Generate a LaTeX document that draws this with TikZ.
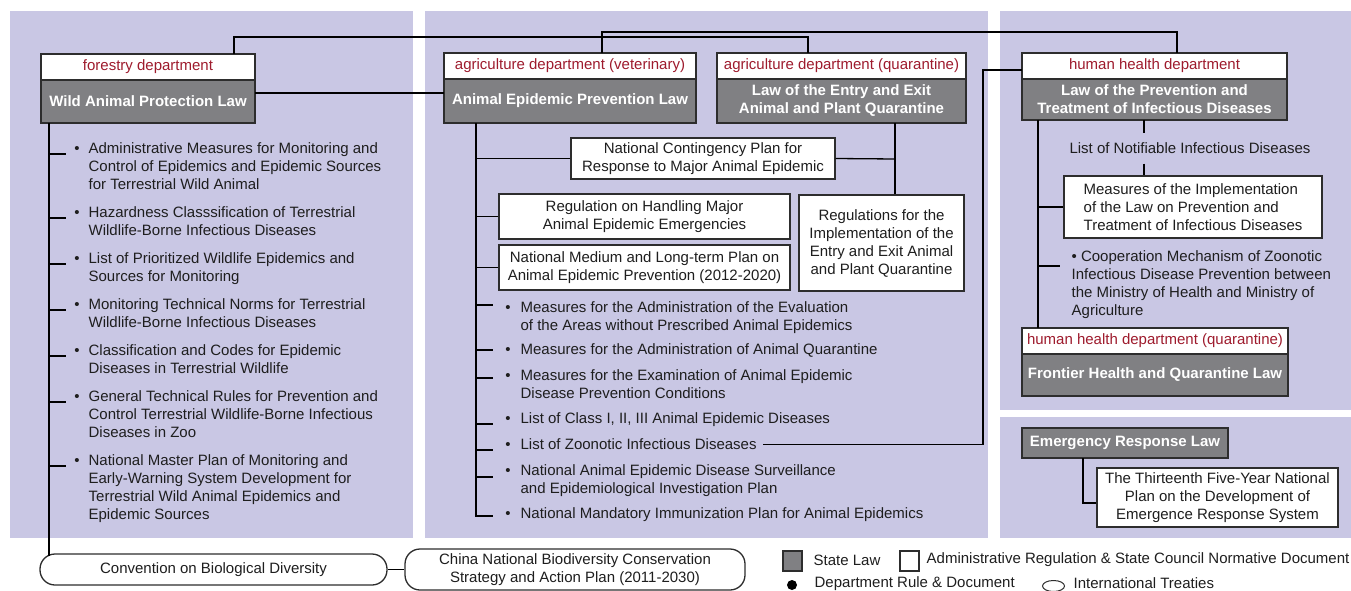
\documentclass[tikz,border=0pt]{standalone}
\usepackage{fontspec}
\setmainfont{Liberation Sans}
\usepackage{xcolor}
\newlength{\deptht}
\newlength{\bulgap}
\usepackage{tikz}
\usetikzlibrary{positioning}
\usetikzlibrary{shapes.geometric}
\definecolor{panelbg}{RGB}{201,199,228}
\definecolor{lawgray}{RGB}{128,128,131}
\definecolor{deptred}{RGB}{158,27,45}
\definecolor{boxline}{RGB}{45,45,45}
\definecolor{inkdark}{RGB}{30,30,30}
\tikzstyle{panel}=[fill=panelbg, draw=none]
\tikzstyle{dept}=[draw=boxline, fill=white, text=deptred, minimum height=\deptht, outer sep=0pt]
\tikzstyle{law}=[draw=boxline, fill=lawgray, text=white, align=center, outer sep=0pt, font=\fontsize{15}{18}\selectfont\bfseries]
\tikzstyle{reg}=[draw=boxline, fill=white, align=center]
\tikzstyle{item}=[anchor=north west, align=left, inner sep=0pt]
\tikzstyle{treaty}=[draw=boxline, fill=white, rounded corners=15pt, align=center]
\newcommand{\bul}{\llap{\textbullet\hspace{\bulgap}}}

\begin{document}
\begin{tikzpicture}[x=1pt, y=-1pt, line width=1.3pt, text=inkdark, font=\fontsize{15}{18}\selectfont]

\setlength{\deptht}{26pt}
\setlength{\bulgap}{9pt}
\useasboundingbox (0,0) rectangle (1351,591);

% panels
\fill[panel] (10,11) rectangle (413,538);
\fill[panel] (425,11) rectangle (988,538);
\fill[panel] (1000,11) rectangle (1351,410);
\fill[panel] (1000,417) rectangle (1351,538);

% forestry
\node (fd) [dept, minimum width=214pt] at (148,67) {forestry department};
\node (wapl) [law, minimum width=214pt, minimum height=43pt, below=0pt of fd] {Wild Animal Protection Law};

\node (lw1) [item] at (88,142) {\bul Administrative Measures for Monitoring and\\Control of Epidemics and Epidemic Sources\\for Terrestrial Wild Animal};
\node (lw2) [item] at (88,206) {\bul Hazardness Classsification of Terrestrial\\Wildlife-Borne Infectious Diseases};
\node (lw3) [item] at (88,252) {\bul List of Prioritized Wildlife Epidemics and\\Sources for Monitoring};
\node (lw4) [item] at (88,298) {\bul Monitoring Technical Norms for Terrestrial\\Wildlife-Borne Infectious Diseases};
\node (lw5) [item] at (88,344) {\bul Classification and Codes for Epidemic\\Diseases in Terrestrial Wildlife};
\node (lw6) [item] at (88,390) {\bul General Technical Rules for Prevention and\\Control Terrestrial Wildlife-Borne Infectious\\Diseases in Zoo};
\node (lw7) [item] at (88,454) {\bul National Master Plan of Monitoring and\\Early-Warning System Development for\\Terrestrial Wild Animal Epidemics and\\Epidemic Sources};

% agriculture
\node (avd) [dept, minimum width=252pt] at (570,66) {agriculture department (veterinary)};
\node (aepl) [law, minimum width=252pt, minimum height=44pt, below=0pt of avd] {Animal Epidemic Prevention Law};
\node (aqd) [dept, minimum width=249pt] at (841.5,66) {agriculture department (quarantine)};
\node (eepl) [law, minimum width=249pt, minimum height=44pt, below=0pt of aqd] {Law of the Entry and Exit\\Animal and Plant Quarantine};

\node (ncp) [reg, minimum width=264pt, minimum height=41pt] at (703,158.5) {National Contingency Plan for\\Response to Major Animal Epidemic};
\node (rhm) [reg, minimum width=291pt, minimum height=45pt] at (644.5,216.5) {Regulation on Handling Major\\Animal Epidemic Emergencies};
\node (nmlp) [reg, minimum width=291pt, minimum height=45pt] at (644.5,267.5) {National Medium and Long-term Plan on\\Animal Epidemic Prevention (2012-2020)};
\node (rie) [reg, minimum width=165pt, minimum height=96pt] at (881.5,243) {Regulations for the\\Implementation of the\\Entry and Exit Animal\\and Plant Quarantine};

\setlength{\bulgap}{10pt}
\node (ae1) [item] at (520,301) {\bul Measures for the Administration of the Evaluation\\of the Areas without Prescribed Animal Epidemics};
\node (ae2) [item] at (520,343) {\bul Measures for the Administration of Animal Quarantine};
\node (ae3) [item] at (520,369) {\bul Measures for the Examination of Animal Epidemic\\Disease Prevention Conditions};
\node (ae4) [item] at (520,412) {\bul List of Class I, II, III Animal Epidemic Diseases};
\node (ae5) [item] at (520,438) {\bul List of Zoonotic Infectious Diseases};
\node (ae6) [item] at (520,464) {\bul National Animal Epidemic Disease Surveillance\\and Epidemiological Investigation Plan};
\node (ae7) [item] at (520,507) {\bul National Mandatory Immunization Plan for Animal Epidemics};

% human health
\node (hhd) [dept, minimum width=265pt] at (1154.5,66) {human health department};
\node (lpt) [law, minimum width=265pt, minimum height=41pt, below=0pt of hhd] {Law of the Prevention and\\Treatment of Infectious Diseases};
\node (lnid) [inner sep=0pt, minimum height=29pt] at (1190,148.5) {List of Notifiable Infectious Diseases};
\node (mil) [reg, align=left, minimum width=258pt, minimum height=62pt] at (1193,207) {Measures of the Implementation\\of the Law on Prevention and\\Treatment of Infectious Diseases};
\node (coop) [item] at (1071,250) {\textbullet\ Cooperation Mechanism of Zoonotic\\Infectious Disease Prevention between\\the Ministry of Health and Ministry of\\Agriculture};
\node (hhq) [dept, minimum width=266pt] at (1155,341) {human health department (quarantine)};
\node (fhql) [law, minimum width=266pt, minimum height=42pt, below=0pt of hhq] {Frontier Health and Quarantine Law};

% emergency
\node (erl) [law, minimum width=206pt, minimum height=30pt] at (1125,443) {Emergency Response Law};
\node (tfy) [reg, minimum width=241pt, minimum height=59pt] at (1217.5,497.5) {The Thirteenth Five-Year National\\Plan on the Development of\\Emergence Response System};

% treaties
\node (cbd) [treaty, minimum width=347pt, minimum height=31pt] at (213.5,569.5) {Convention on Biological Diversity};
\node (cnbs) [treaty, minimum width=340pt, minimum height=41pt] at (575,569.5) {China National Biodiversity Conservation\\Strategy and Action Plan (2011-2030)};

% legend
\node (keylaw) [draw=boxline, fill=lawgray, minimum width=19pt, minimum height=20pt, inner sep=0pt] at (792.5,561) {};
\node (keylawtxt) [anchor=west, inner sep=0pt] at (813,560) {State Law};
\node (keyreg) [draw=boxline, fill=white, minimum width=19pt, minimum height=20pt, inner sep=0pt] at (909.5,561) {};
\node (keyregtxt) [anchor=west, inner sep=0pt] at (926,560) {Administrative Regulation \& State Council Normative Document};
\node (keydot) [circle, fill=black, minimum size=10pt, inner sep=0pt] at (792,585) {};
\node (keydottxt) [anchor=west, inner sep=0pt] at (814,583.5) {Department Rule \& Document};
\node (keytreaty) [ellipse, draw=boxline, line width=1pt, minimum width=22pt, minimum height=11pt, inner sep=0pt] at (1053.5,586) {};
\node (keytreatytxt) [anchor=west, inner sep=0pt] at (1073,583.5) {International Treaties};

% connectors
\coordinate (j1) at (234,37);
\coordinate (j2) at (808,37);
\coordinate (j3) at (602,32);
\coordinate (j4) at (1177,32);
\coordinate (j5) at (350,93);
\coordinate (j6) at (983,70);
\draw (fd.north -| j1) -- (j1) -- (j2) -- (aqd.north -| j2);
\draw (avd.north -| j3) -- (j3) -- (j4) -- (hhd.north -| j4);
\draw (wapl.east |- j5) -- (aepl.west |- j5);
\draw ([xshift=6pt]ae5.east) -| (j6) -- (hhd.west |- j6);

\coordinate (lt) at (49,556);
\draw (wapl.south -| lt) -- (lt);
\foreach \i/\y in {1/154,2/218,3/264,4/310,5/356,6/402,7/466}
  \coordinate (lwt\i) at (66,\y);
\foreach \i in {1,...,7}
  \draw (lt |- lwt\i) -- (lwt\i);
\draw (cbd.east) -- (cnbs.west);

\coordinate (vt) at (476,516);
\coordinate (vte) at (493,516);
\draw (aepl.south -| vt) -- (vt) -- (vte);
\draw (vt |- ncp.west) -- (ncp.west);
\draw (vt |- rhm.west) -- (rhm.west);
\draw (vt |- nmlp.west) -- (nmlp.west);
\foreach \i/\y in {1/305,2/350,3/378,4/424,5/450,6/477}
  \coordinate (aet\i) at (493,\y);
\foreach \i in {1,...,6}
  \draw (vt |- aet\i) -- (aet\i);

\coordinate (qt) at (895,159);
\draw (eepl.south -| qt) -- (rie.north -| qt);
\draw (ncp.east) -- (qt);

\coordinate (rt) at (1038,203);
\coordinate (ct) at (1060,266);
\coordinate (lx) at (1144,134);
\draw (lpt.south -| rt) -- (hhq.north -| rt);
\draw (rt |- mil.west) -- (mil.west);
\draw (rt |- ct) -- (ct);
\draw (lpt.south -| lx) -- (lnid.north -| lx);
\draw (lnid.south -| lx) -- (mil.north -| lx);

\coordinate (et) at (1083,503);
\draw (erl.south -| et) -- (et) -- (tfy.west |- et);
\end{tikzpicture}
\end{document}
